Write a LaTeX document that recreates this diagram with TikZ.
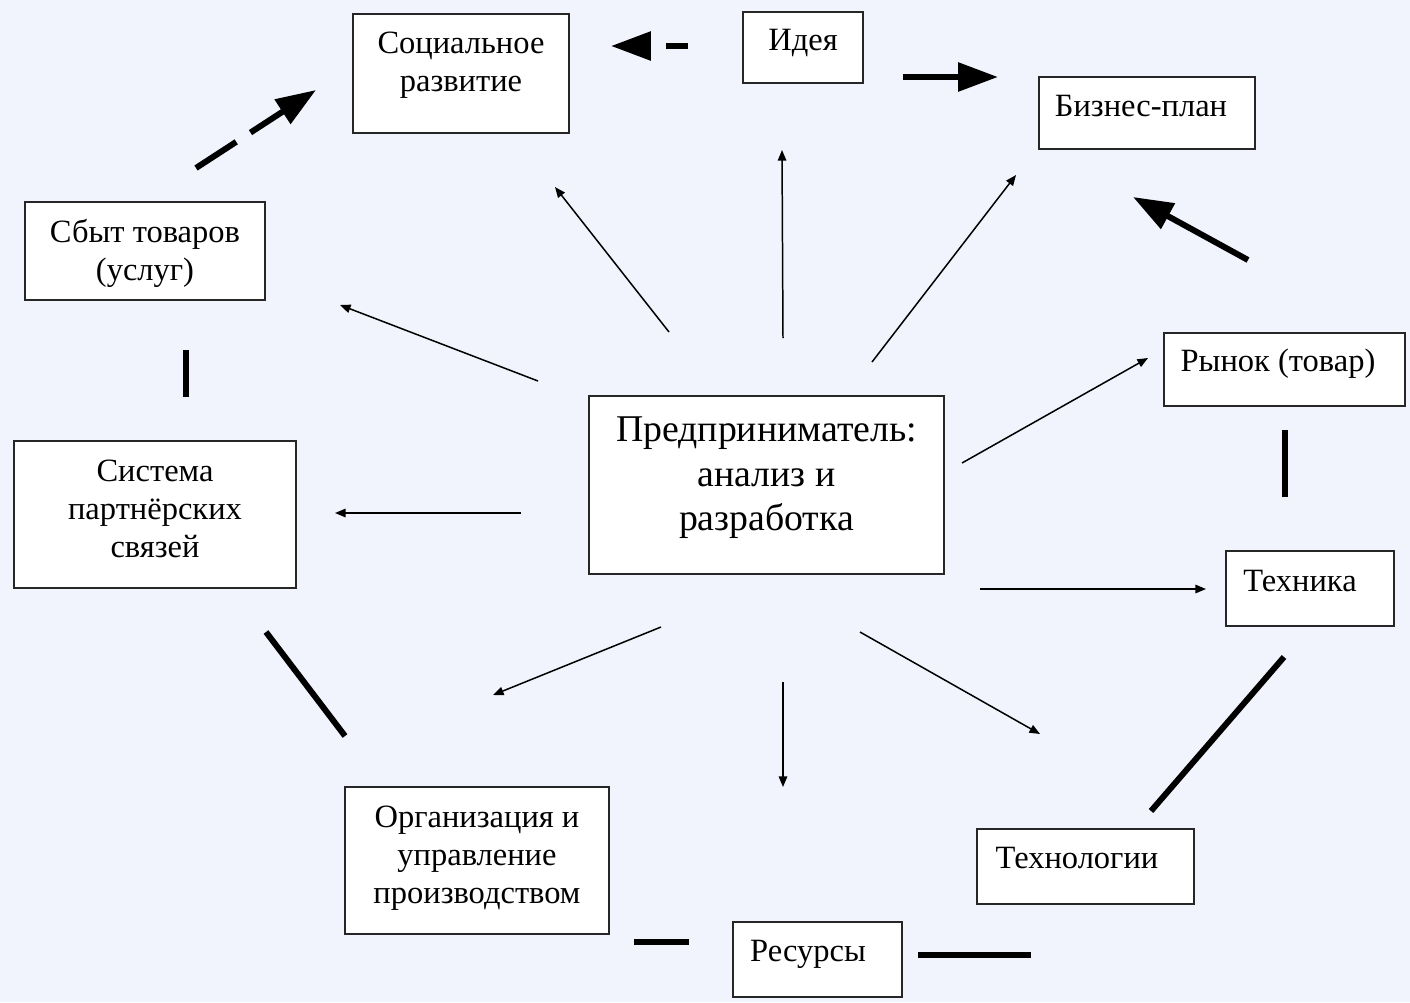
\documentclass[tikz,border=0pt]{standalone}
\usepackage{fontspec}
\setmainfont{Liberation Serif}
\usetikzlibrary{arrows.meta}
\definecolor{bgpaper}{HTML}{F1F4FC}
\tikzset{
box/.style={ % frame of every block
draw=black!85,
line width=1.1pt,
fill=white,
inner sep=0pt},
txt/.style={align=center, font=\fontsize{18.5pt}{21.6pt}\selectfont},
bigtxt/.style={align=center, font=\fontsize{21.5pt}{25.3pt}\selectfont},
ray/.style={line width=0.85pt, -{Triangle[length=6pt,width=4.8pt]}}, % thin arrows from the centre
bold/.style={line width=3.4pt}, % thick links between blocks
boldarrow/.style={bold, -{Triangle[length=0.8cm,width=0.56cm]}}}

\begin{document}
\begin{tikzpicture}[x=0.02cm, y=-0.02cm]
\fill[bgpaper] (0,0) rectangle (1410,1002);

% blocks
\node[box, minimum width=4.32cm, minimum height=2.38cm,
  label={[txt, yshift=0.16cm]center:{Социальное\\развитие}}] (soc) at (461,73.5) {};
\node[box, minimum width=2.4cm, minimum height=1.42cm,
  label={[txt, yshift=0.09cm]center:{Идея}}] (idea) at (803,47.5) {};
\node[box, minimum width=4.32cm, minimum height=1.44cm,
  label={[txt, xshift=-0.12cm, yshift=0.13cm]center:{Бизнес-план}}] (biz) at (1147,113) {};
\node[box, minimum width=4.8cm, minimum height=1.96cm,
  label={[txt, yshift=-0.04cm]center:{Сбыт товаров\\(услуг)}}] (sbyt) at (145,251) {};
\node[box, minimum width=4.82cm, minimum height=1.46cm,
  label={[txt, xshift=-0.13cm, yshift=0.11cm]center:{Рынок (товар)}}] (rynok) at (1284.5,369.5) {};
\node[box, minimum width=5.64cm, minimum height=2.94cm,
  label={[txt, yshift=0.11cm]center:{Система\\партнёрских\\связей}}] (sys) at (155,514.5) {};
\node[box, minimum width=7.1cm, minimum height=3.56cm,
  label={[bigtxt, yshift=0.14cm]center:{Предприниматель:\\анализ и\\разработка}}] (cen) at (766.5,485) {};
\node[box, minimum width=3.36cm, minimum height=1.5cm,
  label={[txt, xshift=-0.2cm, yshift=0.15cm]center:{Техника}}] (tech) at (1310,588.5) {};
\node[box, minimum width=5.28cm, minimum height=2.94cm,
  label={[txt, yshift=0.04cm]center:{Организация и\\управление\\производством}}] (org) at (477,860.5) {};
\node[box, minimum width=4.34cm, minimum height=1.5cm,
  label={[txt, xshift=-0.17cm, yshift=0.17cm]center:{Технологии}}] (techn) at (1085.5,866.5) {};
\node[box, minimum width=3.38cm, minimum height=1.5cm,
  label={[txt, xshift=-0.19cm, yshift=0.11cm]center:{Ресурсы}}] (res) at (817.5,959.5) {};

% ends of the rays from the centre
\coordinate (c-soc) at (669,332);   \coordinate (t-soc) at (555,187);
\coordinate (c-idea) at (783,338);  \coordinate (t-idea) at (782,150);
\coordinate (c-biz) at (872,362);   \coordinate (t-biz) at (1016,175);
\coordinate (c-sbyt) at (538,381);  \coordinate (t-sbyt) at (340,305);
\coordinate (c-rynok) at (962,463); \coordinate (t-rynok) at (1148,358);
\coordinate (c-sys) at (521,513);   \coordinate (t-sys) at (335,513);
\coordinate (c-tech) at (980,589);  \coordinate (t-tech) at (1206,589);
\coordinate (c-org) at (661,627);   \coordinate (t-org) at (493,695);
\coordinate (c-res) at (783,682);   \coordinate (t-res) at (783,787);
\coordinate (c-techn) at (860,632); \coordinate (t-techn) at (1040,734);

\draw[ray] (c-soc) -- (t-soc);
\draw[ray] (c-idea) -- (t-idea);
\draw[ray] (c-biz) -- (t-biz);
\draw[ray] (c-sbyt) -- (t-sbyt);
\draw[ray] (c-rynok) -- (t-rynok);
\draw[ray] (c-sys) -- (t-sys);
\draw[ray] (c-tech) -- (t-tech);
\draw[ray] (c-org) -- (t-org);
\draw[ray] (c-res) -- (t-res);
\draw[ray] (c-techn) -- (t-techn);

% ends of the thick links
\coordinate (idea-soc-a) at (688,46);    \coordinate (idea-soc-b) at (611,46);
\coordinate (idea-biz-a) at (903,77);    \coordinate (idea-biz-b) at (998,77);
\coordinate (sbyt-soc-a) at (196,168);   \coordinate (sbyt-soc-b) at (316,90);
\coordinate (rynok-biz-a) at (1248,260); \coordinate (rynok-biz-b) at (1133,197);
\coordinate (sbyt-sys-a) at (186,350);   \coordinate (sbyt-sys-b) at (186,397);
\coordinate (rynok-tech-a) at (1285,430); \coordinate (rynok-tech-b) at (1285,497);
\coordinate (sys-org-a) at (266,632);    \coordinate (sys-org-b) at (345,736);
\coordinate (tech-techn-a) at (1284,657); \coordinate (tech-techn-b) at (1151,811);
\coordinate (org-res-a) at (634,942);    \coordinate (org-res-b) at (689,942);
\coordinate (res-techn-a) at (918,955);  \coordinate (res-techn-b) at (1031,955);

\draw[boldarrow, dash pattern=on 0.44cm off 0.4cm] (idea-soc-a) -- (idea-soc-b);
\draw[boldarrow] (idea-biz-a) -- (idea-biz-b);
\draw[boldarrow, dash pattern=on 0.96cm off 0.34cm] (sbyt-soc-a) -- (sbyt-soc-b);
\draw[boldarrow] (rynok-biz-a) -- (rynok-biz-b);
\draw[bold] (sbyt-sys-a) -- (sbyt-sys-b);
\draw[bold] (rynok-tech-a) -- (rynok-tech-b);
\draw[bold] (sys-org-a) -- (sys-org-b);
\draw[bold] (tech-techn-a) -- (tech-techn-b);
\draw[bold] (org-res-a) -- (org-res-b);
\draw[bold] (res-techn-a) -- (res-techn-b);
\end{tikzpicture}
\end{document}
